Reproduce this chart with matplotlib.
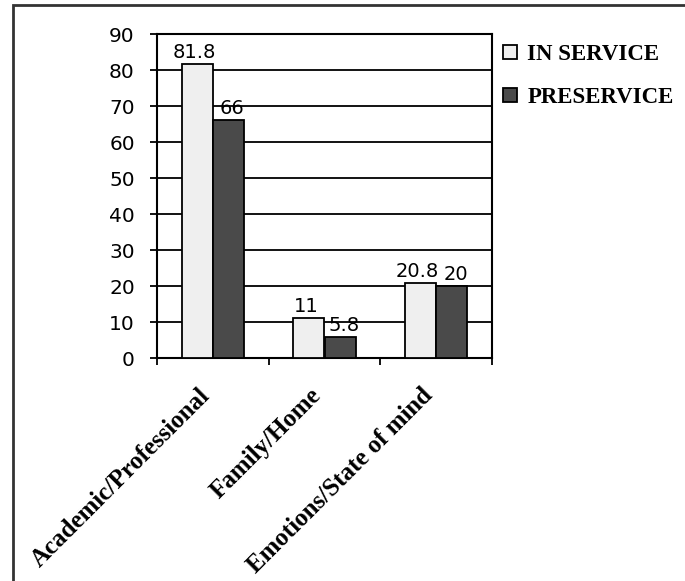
import matplotlib
matplotlib.use("Agg")
import matplotlib.pyplot as plt
from matplotlib.patches import Rectangle
import numpy as np

categories = ["Academic/Professional", "Family/Home", "Emotions/State of mind"]
inservice = [81.8, 11, 20.8]
preservice = [66, 5.8, 20]
series_names = ["IN SERVICE", "PRESERVICE"]
yticks = [0, 10, 20, 30, 40, 50, 60, 70, 80, 90]

fig = plt.figure(figsize=(6.85, 5.81), dpi=100)
ax = fig.add_axes([157 / 685, 1 - 358 / 581, (492 - 157) / 685, (358 - 34) / 581])

# outer frame of the chart object (runs off the right and bottom edges)
fig.patches.append(Rectangle((13 / 685, -0.05), 1.0, 1 - 5 / 581 + 0.05,
                             transform=fig.transFigure, fill=False,
                             edgecolor="#333333", linewidth=2))

x = np.arange(len(categories)) + 0.5
w = 0.28
b1 = ax.bar(x - w / 2, inservice, w, color="#efefef", edgecolor="black", linewidth=1.3,
            label=series_names[0], zorder=3)
b2 = ax.bar(x + w / 2, preservice, w, color="#4a4a4a", edgecolor="black", linewidth=1.3,
            label=series_names[1], zorder=3)

# value labels; light-bar labels nudged left, dark-bar labels right so they don't collide
for bars, vals, dx in [(b1, inservice, -3), (b2, preservice, 4)]:
    for rect, v in zip(bars, vals):
        ax.annotate(f"{v:g}", (rect.get_x() + rect.get_width() / 2, v),
                    xytext=(dx, 2), textcoords="offset pixels",
                    ha="center", va="bottom", fontsize=14, family="DejaVu Sans", zorder=4)

ax.set_xlim(0, 3)
ax.set_ylim(0, 90)
ax.set_yticks(yticks)
ax.set_yticklabels([str(t) for t in yticks], fontsize=14.5, family="DejaVu Sans")
ax.yaxis.grid(True, color="black", linewidth=1.3, zorder=0)
ax.set_axisbelow(True)

ax.set_xticks([0, 1, 2, 3])
ax.set_xticklabels([])
ax.tick_params(axis="y", length=5, width=1.3, pad=11)
ax.tick_params(axis="x", length=5, width=1.3)
for s in ax.spines.values():
    s.set_linewidth(1.5)
    s.set_color("black")

for xc, lab in zip(x, categories):
    ax.text(xc - 0.06, -9.5, lab, rotation=45, rotation_mode="anchor", ha="right", va="center",
            fontsize=18, family="Liberation Serif", fontweight="bold")

leg = ax.legend(loc="upper left", bbox_to_anchor=(494 / 685, 1 - 35 / 581), bbox_transform=fig.transFigure,
                frameon=False, prop={"family": "Liberation Serif", "weight": "bold", "size": 16.5},
                handlelength=0.6, handleheight=0.6, handletextpad=0.45, labelspacing=0.95,
                borderaxespad=0)

fig.savefig("out.png", dpi=100)
